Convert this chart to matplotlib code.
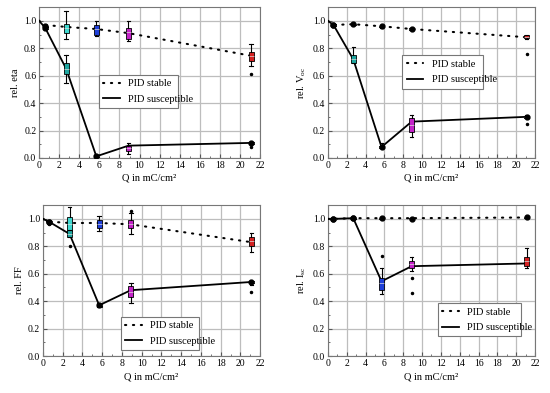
import numpy as np
import matplotlib.pyplot as plt
from matplotlib.ticker import MultipleLocator

plt.rcParams['font.family'] = ['Liberation Serif', 'DejaVu Serif']
plt.rcParams['mathtext.fontset'] = 'custom'
plt.rcParams['mathtext.rm'] = 'Liberation Serif'
plt.rcParams['mathtext.it'] = 'Liberation Serif'

# x-Positionen (Q in mC/cm²)
pos = [0.6, 2.7, 5.7, 8.9, 21.1]
line_x = [0.0, 0.6, 2.7, 5.7, 8.9, 21.1]

# Boxen je Punkt: (unten, Q1, Median, Q3, oben)
# --- rel. eta
eta_stab = [(0.95, 0.955, 0.96, 0.965, 0.97), (0.87, 0.91, 0.95, 0.98, 1.07), (0.89, 0.90, 0.94, 0.97, 1.00),
            (0.85, 0.87, 0.92, 0.95, 1.00), (0.67, 0.71, 0.74, 0.77, 0.83)]
eta_stab_fl = [[], [], [], [], [0.61]]
eta_stab_line = [1.0, 0.97, 0.955, 0.94, 0.91, 0.745]
eta_sus = [(0.94, 0.94, 0.95, 0.96, 0.96), (0.55, 0.61, 0.65, 0.69, 0.75), (0.005, 0.01, 0.012, 0.02, 0.02),
           (0.03, 0.05, 0.07, 0.09, 0.11), (0.10, 0.105, 0.11, 0.115, 0.12)]
eta_sus_fl = [[], [], [], [], [0.08]]
eta_sus_line = [1.0, 0.95, 0.65, 0.012, 0.09, 0.11]

# --- rel. Voc
voc_stab = [(0.965, 0.967, 0.97, 0.973, 0.975), (0.97, 0.972, 0.975, 0.978, 0.98), (0.95, 0.955, 0.96, 0.965, 0.97),
            (0.93, 0.935, 0.94, 0.945, 0.95), (0.87, 0.872, 0.883, 0.894, 0.896)]
voc_stab_fl = [[], [], [], [], [0.76]]
voc_stab_line = [1.0, 0.97, 0.975, 0.96, 0.94, 0.88]
voc_sus = [(0.96, 0.965, 0.97, 0.975, 0.98), (0.69, 0.69, 0.72, 0.75, 0.81), (0.07, 0.075, 0.08, 0.09, 0.11),
           (0.15, 0.19, 0.24, 0.29, 0.31), (0.29, 0.293, 0.30, 0.307, 0.31)]
voc_sus_fl = [[], [], [], [], [0.25]]
voc_sus_line = [1.0, 0.97, 0.72, 0.08, 0.265, 0.30]

# --- rel. FF
ff_stab = [(0.975, 0.977, 0.98, 0.983, 0.985), (0.88, 0.91, 0.96, 1.01, 1.09), (0.91, 0.93, 0.96, 0.99, 1.02),
           (0.89, 0.93, 0.96, 0.99, 1.04), (0.76, 0.80, 0.84, 0.87, 0.90)]
ff_stab_fl = [[0.96], [], [], [1.06], []]
ff_stab_line = [1.0, 0.98, 0.97, 0.97, 0.96, 0.83]
ff_sus = [(0.975, 0.977, 0.98, 0.983, 0.985), (0.87, 0.87, 0.89, 0.92, 0.92), (0.36, 0.36, 0.37, 0.38, 0.39),
          (0.39, 0.43, 0.47, 0.51, 0.53), (0.52, 0.53, 0.54, 0.545, 0.55)]
ff_sus_fl = [[], [0.80], [], [], [0.47]]
ff_sus_line = [1.0, 0.98, 0.89, 0.37, 0.48, 0.54]

# --- rel. Isc
isc_stab = [(0.995, 0.997, 1.0, 1.003, 1.005), (1.0, 1.002, 1.005, 1.008, 1.01), (1.0, 1.002, 1.005, 1.008, 1.01),
            (0.995, 0.997, 1.0, 1.003, 1.005), (1.005, 1.007, 1.01, 1.013, 1.015)]
isc_stab_fl = [[], [], [], [], []]
isc_stab_line = [1.0, 1.0, 1.005, 1.005, 1.005, 1.01]
isc_sus = [(0.995, 0.997, 1.0, 1.003, 1.005), (1.0, 1.002, 1.005, 1.008, 1.01), (0.45, 0.48, 0.53, 0.57, 0.64),
           (0.62, 0.64, 0.67, 0.69, 0.72), (0.64, 0.66, 0.69, 0.72, 0.79)]
isc_sus_fl = [[], [], [0.73], [0.57, 0.46], []]
isc_sus_line = [1.0, 1.0, 1.005, 0.545, 0.655, 0.675]

# Farben
cyan = '#3fd8d0'
teal = '#1fa6a0'
blue = '#1f3fd8'
mag = '#c424c8'
red = '#d42222'

panels = [
    ('rel. eta', eta_stab, eta_stab_fl, eta_stab_line, ['k', cyan, blue, mag, red],
     eta_sus, eta_sus_fl, eta_sus_line, ['k', teal, 'k', mag, 'k'], (0.27, 0.33, 0.36, 0.18)),
    ('rel. V$_{\\mathrm{oc}}$', voc_stab, voc_stab_fl, voc_stab_line, ['k', 'k', 'k', 'k', red],
     voc_sus, voc_sus_fl, voc_sus_line, ['k', teal, 'k', mag, 'k'], (0.36, 0.46, 0.39, 0.24)),
    ('rel. FF', ff_stab, ff_stab_fl, ff_stab_line, ['k', cyan, blue, mag, red],
     ff_sus, ff_sus_fl, ff_sus_line, ['k', teal, 'k', mag, 'k'], (0.36, 0.04, 0.36, 0.19)),
    ('rel. I$_{\\mathrm{sc}}$', isc_stab, isc_stab_fl, isc_stab_line, ['k', 'k', 'k', 'k', 'k'],
     isc_sus, isc_sus_fl, isc_sus_line, ['k', 'k', blue, mag, red], (0.53, 0.13, 0.40, 0.23)),
]

axes_rects = [[0.071, 0.598, 0.402, 0.384], [0.596, 0.598, 0.377, 0.384],
              [0.078, 0.094, 0.395, 0.384], [0.596, 0.094, 0.377, 0.384]]

fig = plt.figure(figsize=(5.5, 3.93), dpi=100)


def boxes(ax, stats, fliers, colors):
    for i in range(len(pos)):
        lo, q1, med, q3, hi = stats[i]
        d = [dict(whislo=lo, q1=q1, med=med, q3=q3, whishi=hi, fliers=fliers[i])]
        ax.bxp(d, positions=[pos[i]], widths=0.5, patch_artist=True, manage_ticks=False,
               boxprops=dict(facecolor=colors[i], edgecolor='k', linewidth=0.6),
               whiskerprops=dict(color='k', linewidth=0.8),
               capprops=dict(color='k', linewidth=0.8), capwidths=0.35,
               medianprops=dict(color='#dddddd', linewidth=0.5),
               flierprops=dict(marker='o', markersize=1.5, markerfacecolor='k', markeredgecolor='k'),
               zorder=4)
        if colors[i] == 'k':
            # kleine schwarze Box -> als Punkt sichtbar
            ax.plot(pos[i], med, 'o', color='k', markersize=3.5, zorder=5)


for rect, p in zip(axes_rects, panels):
    ylab, st, st_fl, st_line, st_col, su, su_fl, su_line, su_col, leg_box = p
    ax = fig.add_axes(rect)
    ax.plot(line_x, st_line, color='k', linestyle=(0, (0.6, 3.2)), linewidth=1.5,
            dash_capstyle='round', label='PID stable', zorder=3)
    ax.plot(line_x, su_line, color='k', linestyle='-', linewidth=1.3, label='PID susceptible', zorder=3)
    boxes(ax, st, st_fl, st_col)
    boxes(ax, su, su_fl, su_col)
    ax.set_xlim(0, 22)
    ax.set_ylim(0, 1.1)
    ax.xaxis.set_major_locator(MultipleLocator(2))
    ax.xaxis.set_minor_locator(MultipleLocator(1))
    ax.yaxis.set_major_locator(MultipleLocator(0.2))
    ax.yaxis.set_minor_locator(MultipleLocator(0.1))
    ax.set_yticks(np.arange(0, 1.01, 0.2))
    ax.set_yticklabels(['%.1f' % v for v in np.arange(0, 1.01, 0.2)])
    ax.grid(True, which='major', color='#bdbdbd', linewidth=0.9, zorder=0)
    ax.set_axisbelow(True)
    ax.tick_params(which='both', direction='in', labelsize=7, color='#555555', pad=2)
    ax.tick_params(which='major', length=3)
    ax.tick_params(which='minor', length=1.5)
    for s in ax.spines.values():
        s.set_color('#777777')
        s.set_linewidth(0.8)
    ax.set_xlabel('Q in mC/cm²', fontsize=7.5, labelpad=3)
    ax.set_ylabel(ylab, fontsize=7.5, labelpad=3)
    leg = ax.legend(loc='lower left', bbox_to_anchor=leg_box, mode='expand', fontsize=7.5,
                    fancybox=False, framealpha=1, edgecolor='#777777', handlelength=1.6,
                    borderaxespad=0, labelspacing=0.6)
    leg.get_frame().set_linewidth(0.8)

fig.savefig('out.png', dpi=100)
